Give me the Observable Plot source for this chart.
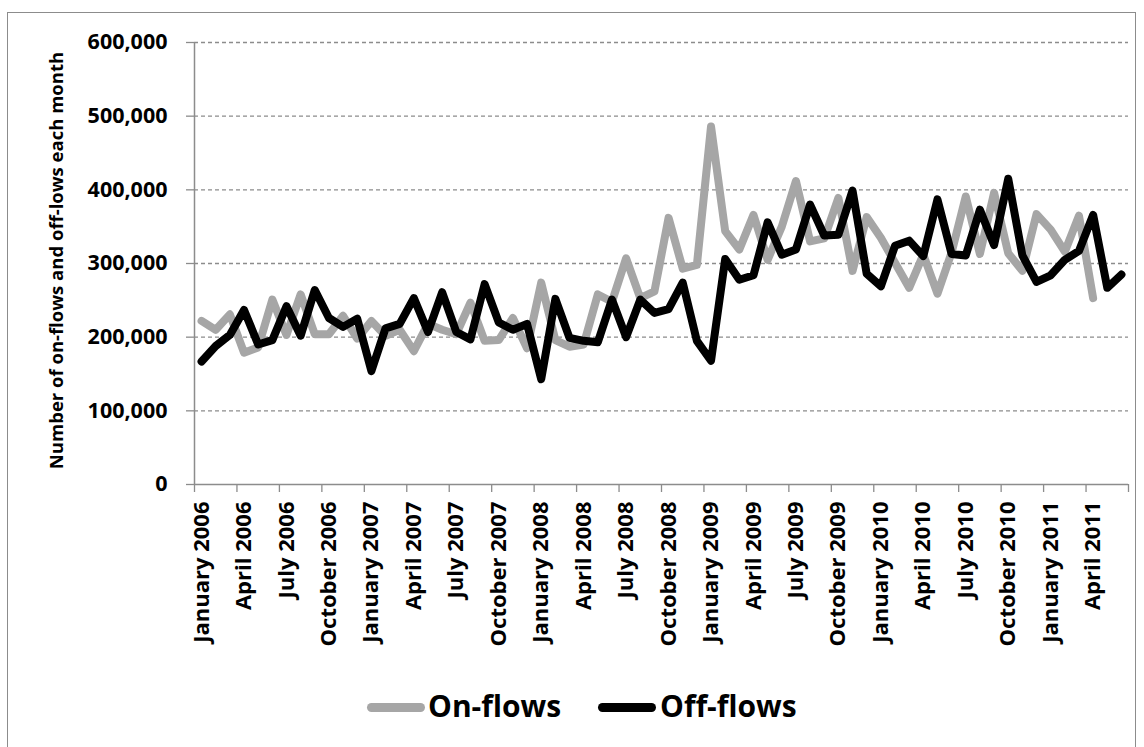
<!DOCTYPE html>
<html>
<head>
<meta charset="utf-8">
<script src="https://cdn.jsdelivr.net/npm/d3@7"></script>
<script src="https://cdn.jsdelivr.net/npm/@observablehq/plot@0.6"></script>
<style>
  html, body { margin: 0; padding: 0; background: #fff; }
  #wrap { position: relative; width: 1144px; height: 747px; overflow: hidden; font-family: "Open Sans", sans-serif; }
  #frame { position: absolute; left: 7px; top: 12px; width: 1129px; height: 760px; border: 1px solid #8c8c8c; box-sizing: border-box; }
  #chart { position: absolute; left: 0; top: 0; }
  .leg-sw { position: absolute; height: 9px; border-radius: 5px; }
  .leg-tx { position: absolute; font-size: 30px; font-weight: 700; line-height: 1; color: #000; }
</style>
</head>
<body>
<div id="wrap">
  <div id="frame"></div>
  <div id="chart"></div>
  <div class="leg-sw" style="left:367px; top:703px; width:58px; background:#a6a6a6;"></div>
  <div class="leg-tx" style="left:428px; top:691px;">On-flows</div>
  <div class="leg-sw" style="left:598px; top:703px; width:58px; background:#000;"></div>
  <div class="leg-tx" style="left:660px; top:691px;">Off-flows</div>
</div>
<script>
const months = [
  "January 2006","February 2006","March 2006","April 2006","May 2006","June 2006",
  "July 2006","August 2006","September 2006","October 2006","November 2006","December 2006",
  "January 2007","February 2007","March 2007","April 2007","May 2007","June 2007",
  "July 2007","August 2007","September 2007","October 2007","November 2007","December 2007",
  "January 2008","February 2008","March 2008","April 2008","May 2008","June 2008",
  "July 2008","August 2008","September 2008","October 2008","November 2008","December 2008",
  "January 2009","February 2009","March 2009","April 2009","May 2009","June 2009",
  "July 2009","August 2009","September 2009","October 2009","November 2009","December 2009",
  "January 2010","February 2010","March 2010","April 2010","May 2010","June 2010",
  "July 2010","August 2010","September 2010","October 2010","November 2010","December 2010",
  "January 2011","February 2011","March 2011","April 2011","May 2011","June 2011"
];

const tickLabels = [
  "January 2006","April 2006","July 2006","October 2006",
  "January 2007","April 2007","July 2007","October 2007",
  "January 2008","April 2008","July 2008","October 2008",
  "January 2009","April 2009","July 2009","October 2009",
  "January 2010","April 2010","July 2010","October 2010",
  "January 2011","April 2011"
];

const onFlows = [
  222000,210000,231000,179000,186000,251000,203000,258000,204000,204000,229000,198000,
  222000,202000,210000,181000,218000,210000,204000,247000,195000,196000,226000,185000,
  274000,196000,187000,190000,258000,248000,307000,253000,262000,362000,293000,298000,
  486000,344000,319000,366000,305000,350000,412000,330000,334000,389000,290000,363000,
  335000,301000,267000,312000,259000,315000,391000,313000,396000,314000,290000,367000,
  346000,316000,365000,253000
];

const offFlows = [
  167000,188000,203000,237000,190000,196000,242000,202000,264000,226000,214000,225000,
  154000,212000,218000,253000,207000,261000,207000,197000,272000,220000,210000,218000,
  143000,252000,199000,195000,193000,251000,200000,251000,233000,238000,274000,195000,
  168000,306000,278000,284000,356000,312000,319000,380000,338000,339000,399000,286000,
  269000,324000,331000,310000,387000,313000,311000,373000,325000,415000,311000,275000,
  284000,305000,317000,366000,267000,285000
];

const yTicks = [0, 100000, 200000, 300000, 400000, 500000, 600000];
const yTitle = "Number of on-flows and off-lows each month";

const onRows = onFlows.map((v, i) => ({month: months[i], idx: i, value: v}));
const offRows = offFlows.map((v, i) => ({month: months[i], idx: i, value: v}));
const labelIdx = tickLabels.map(l => months.indexOf(l));
const boundaryTicks = d3.range(-0.5, months.length, 3);

const axisColor = "#8c8c8c";

const chart = Plot.plot({
  width: 1144,
  height: 670,
  marginTop: 42,
  marginBottom: 186,
  marginLeft: 194,
  marginRight: 16,
  style: {fontFamily: "'Open Sans', sans-serif", fontWeight: 700, color: "#000", background: "transparent", overflow: "visible"},
  x: {type: "linear", domain: [-0.5, months.length - 0.5]},
  y: {domain: [0, 600000]},
  marks: [
    Plot.gridY(yTicks.filter(d => d > 0), {stroke: axisColor, strokeOpacity: 1, strokeWidth: 1.3, strokeDasharray: "4,3"}),
    Plot.axisY(yTicks, {tickSize: 8, tickPadding: 19, tickFormat: d3.format(","), fontSize: 21.5, fontWeight: 700, stroke: axisColor, strokeWidth: 1.3, label: null}),
    Plot.axisX(boundaryTicks, {tickSize: 8, tickFormat: () => "", stroke: axisColor, strokeWidth: 1.3, label: null}),
    Plot.axisX(labelIdx, {tickSize: 0, tickPadding: 17, tickRotate: -90, tickFormat: i => months[i], fontSize: 22, fontWeight: 700, label: null}),
    Plot.ruleY([0], {stroke: axisColor, strokeWidth: 1.5}),
    Plot.ruleX([-0.5], {stroke: axisColor, strokeWidth: 1.5}),
    Plot.text([yTitle], {frameAnchor: "left", textAnchor: "middle", rotate: -90, dx: -137, dy: -3, fontSize: 18.5, fontWeight: 700, fill: "#000"}),
    Plot.line(onRows, {x: "idx", y: "value", stroke: "#a6a6a6", strokeWidth: 8, strokeLinejoin: "round", strokeLinecap: "round"}),
    Plot.line(offRows, {x: "idx", y: "value", stroke: "#000", strokeWidth: 8, strokeLinejoin: "round", strokeLinecap: "round"})
  ]
});
document.getElementById("chart").appendChild(chart);
</script>
</body>
</html>
